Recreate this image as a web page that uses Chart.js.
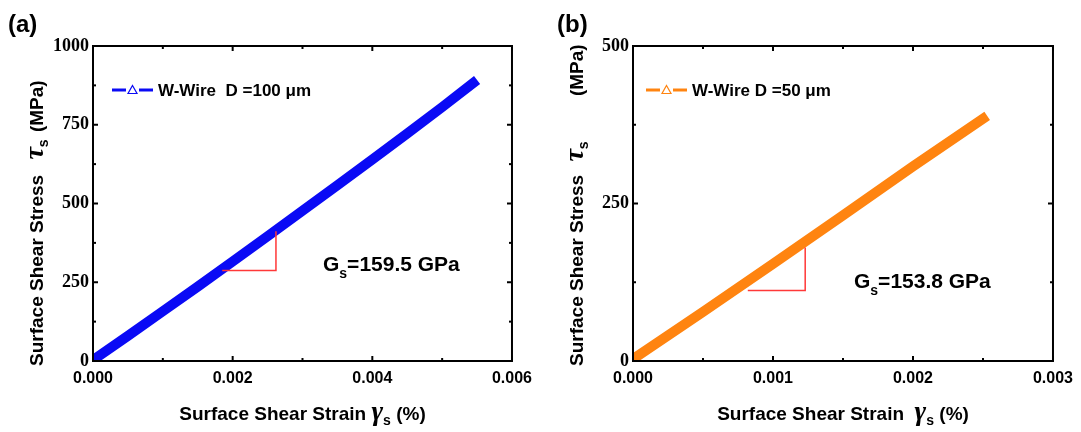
<!DOCTYPE html>
<html>
<head>
<meta charset="utf-8">
<script src="https://cdn.jsdelivr.net/npm/chart.js@4.4.1/dist/chart.umd.min.js"></script>
<style>
    html, body { margin: 0; padding: 0; background: #fff; }
    #wrap { position: relative; width: 1081px; height: 432px; overflow: hidden; }
    canvas { position: absolute; top: 0; }
    #chartA { left: 0; }
    #chartB { left: 540px; }
</style>
</head>
<body>
<div id="wrap">
    <canvas id="chartA" width="540" height="432"></canvas>
    <canvas id="chartB" width="541" height="432"></canvas>
</div>
<script>
(function () {
    'use strict';

    // panel (a): W-wire, D = 100 um
    const strainA = [0, 0.0005, 0.001, 0.0015, 0.002, 0.0025, 0.003, 0.0035, 0.004, 0.0045, 0.005, 0.0055];
    const stressA = [3, 80, 158, 236, 316, 396, 477, 558, 640, 722, 806, 892];
    const slopeStrainA = [0.00185, 0.00262, 0.00262];
    const slopeStressA = [287, 287, 412];
    const xTicksA = [0, 0.002, 0.004, 0.006];
    const xMinorA = [0.001, 0.003, 0.005];
    const yTicksA = [0, 250, 500, 750, 1000];
    const yMinorA = [125, 375, 625, 875];

    // panel (b): W-wire, D = 50 um
    const strainB = [0, 0.0005, 0.001, 0.0015, 0.002, 0.00253];
    const stressB = [3, 78, 154, 231, 309, 389];
    const slopeStrainB = [0.00082, 0.00123, 0.00123];
    const slopeStressB = [112, 112, 180];
    const xTicksB = [0, 0.001, 0.002, 0.003];
    const xMinorB = [0.0005, 0.0015, 0.0025];
    const yTicksB = [0, 250, 500];
    const yMinorB = [125, 375];

    const SANS = '"Liberation Sans", Arial, sans-serif';
    const SERIF = '"Liberation Serif", "Times New Roman", serif';
    const BLUE = '#0a0af5';
    const ORANGE = '#ff8410';
    const RED = '#ff3838';

    function toPoints(xs, ys) {
        return xs.map((x, i) => ({ x, y: ys[i] }));
    }

    // draws a row of text pieces with their own fonts; "gap" adds extra space after a piece
    function drawRich(ctx, parts, x, y, align) {
        let total = 0;
        parts.forEach((p) => {
            ctx.font = p.font;
            p.w = ctx.measureText(p.text).width + (p.gap || 0);
            total += p.w;
        });
        let cx = align === 'center' ? x - total / 2 : x;
        ctx.textAlign = 'left';
        ctx.textBaseline = 'alphabetic';
        parts.forEach((p) => {
            ctx.font = p.font;
            ctx.fillText(p.text, cx, y + (p.dy || 0));
            cx += p.w;
        });
    }

    function seg(ctx, x1, y1, x2, y2) {
        ctx.beginPath();
        ctx.moveTo(x1, y1);
        ctx.lineTo(x2, y2);
        ctx.stroke();
    }

    const decoPlugin = {
        id: 'deco',
        afterDraw(chart, args, o) {
            const ctx = chart.ctx;
            const a = chart.chartArea;
            const xs = chart.scales.x;
            const ys = chart.scales.y;
            ctx.save();
            ctx.fillStyle = '#000';
            ctx.strokeStyle = '#000';

            // inward ticks on all four sides
            ctx.lineWidth = 2;
            const tickX = (v, len) => {
                const px = xs.getPixelForValue(v);
                seg(ctx, px, a.bottom, px, a.bottom - len);
                seg(ctx, px, a.top, px, a.top + len);
            };
            const tickY = (v, len) => {
                const py = ys.getPixelForValue(v);
                seg(ctx, a.left, py, a.left + len, py);
                seg(ctx, a.right, py, a.right - len, py);
            };
            o.xMajor.forEach((v) => tickX(v, 5));
            o.xMinor.forEach((v) => tickX(v, 3));
            o.yMajor.forEach((v) => tickY(v, 5));
            o.yMinor.forEach((v) => tickY(v, 3));

            // frame
            ctx.strokeRect(a.left, a.top, a.right - a.left, a.bottom - a.top);

            // legend
            const lx = a.left + o.legendDx;
            const ly = a.top + 44;
            ctx.strokeStyle = o.color;
            ctx.lineWidth = 3;
            seg(ctx, lx, ly, lx + 14, ly);
            seg(ctx, lx + 27, ly, lx + 41, ly);
            ctx.lineWidth = 1.2;
            ctx.beginPath();
            ctx.moveTo(lx + 20.5, ly - 4.5);
            ctx.lineTo(lx + 25, ly + 3.5);
            ctx.lineTo(lx + 16, ly + 3.5);
            ctx.closePath();
            ctx.stroke();
            ctx.fillStyle = '#000';
            ctx.font = 'bold 17px ' + SANS;
            ctx.textAlign = 'left';
            ctx.textBaseline = 'middle';
            ctx.fillText(o.legend, lx + 46, ly + 1);

            // modulus annotation
            drawRich(ctx, [
                { text: 'G', font: 'bold 21px ' + SANS },
                { text: 's', font: 'bold 14px ' + SANS, dy: 7 },
                { text: o.modulus, font: 'bold 21px ' + SANS },
            ], a.left + o.gsDx, a.top + o.gsDy, 'left');

            // panel label
            ctx.font = 'bold 24px ' + SANS;
            ctx.textBaseline = 'alphabetic';
            ctx.fillText(o.panel, o.panelX, 32);

            // x axis title
            drawRich(ctx, [
                { text: o.xTitle, font: 'bold 19px ' + SANS },
                { text: '\u03b3', font: 'italic bold 28px ' + SERIF },
                { text: 's', font: 'bold 14px ' + SANS, dy: 5 },
                { text: ' (%)', font: 'bold 19px ' + SANS },
            ], (a.left + a.right) / 2, 420, 'center');

            // y axis title, rotated
            ctx.translate(43, 366);
            ctx.rotate(-Math.PI / 2);
            drawRich(ctx, [
                { text: 'Surface Shear Stress ', font: 'bold 19px ' + SANS, gap: o.tauGap },
                { text: '\u03c4', font: 'italic bold 28px ' + SERIF },
                { text: 's', font: 'bold 14px ' + SANS, dy: 5, gap: o.unitGap },
                { text: ' (MPa)', font: 'bold 19px ' + SANS },
            ], 0, 0, 'left');

            ctx.restore();
        },
    };

    function buildChart(canvas, cfg) {
        return new Chart(canvas, {
            type: 'line',
            data: {
                datasets: [
                    {
                        data: toPoints(cfg.slopeX, cfg.slopeY),
                        borderColor: RED,
                        borderWidth: 1.5,
                        pointRadius: 0,
                        tension: 0,
                    },
                    {
                        data: toPoints(cfg.strain, cfg.stress),
                        borderColor: cfg.color,
                        borderWidth: 10,
                        borderCapStyle: 'butt',
                        pointRadius: 0,
                        tension: 0,
                    },
                ],
            },
            options: {
                responsive: false,
                animation: false,
                events: [],
                layout: { padding: { left: 0, top: 46, right: cfg.padRight, bottom: 0 } },
                plugins: {
                    legend: { display: false },
                    tooltip: { enabled: false },
                    deco: {
                        xMajor: cfg.xTicks,
                        xMinor: cfg.xMinor,
                        yMajor: cfg.yTicks,
                        yMinor: cfg.yMinor,
                        color: cfg.color,
                        legend: cfg.legend,
                        legendDx: cfg.legendDx,
                        modulus: cfg.modulus,
                        gsDx: cfg.gsDx,
                        gsDy: cfg.gsDy,
                        panel: cfg.panel,
                        panelX: cfg.panelX,
                        xTitle: cfg.xTitle,
                        tauGap: cfg.tauGap,
                        unitGap: cfg.unitGap,
                    },
                },
                scales: {
                    x: {
                        type: 'linear',
                        min: cfg.xTicks[0],
                        max: cfg.xTicks[cfg.xTicks.length - 1],
                        afterBuildTicks: (s) => { s.ticks = cfg.xTicks.map((v) => ({ value: v })); },
                        afterFit: (s) => { s.height = 71; },
                        ticks: {
                            callback: (v) => Number(v).toFixed(3),
                            color: '#000',
                            font: { family: SANS, weight: 'bold', size: 16 },
                            padding: 8,
                            maxRotation: 0,
                        },
                        grid: { display: false, drawTicks: false },
                        border: { display: false },
                    },
                    y: {
                        type: 'linear',
                        min: cfg.yTicks[0],
                        max: cfg.yTicks[cfg.yTicks.length - 1],
                        afterBuildTicks: (s) => { s.ticks = cfg.yTicks.map((v) => ({ value: v })); },
                        afterFit: (s) => { s.width = 93; },
                        ticks: {
                            callback: (v) => String(v),
                            color: '#000',
                            font: { family: SERIF, weight: 'bold', size: 18 },
                            padding: 4,
                        },
                        grid: { display: false, drawTicks: false },
                        border: { display: false },
                    },
                },
            },
            plugins: [decoPlugin],
        });
    }

    buildChart(document.getElementById('chartA'), {
        strain: strainA, stress: stressA,
        slopeX: slopeStrainA, slopeY: slopeStressA,
        xTicks: xTicksA, xMinor: xMinorA, yTicks: yTicksA, yMinor: yMinorA,
        color: BLUE, padRight: 21,
        legend: 'W-Wire  D =100 \u03bcm', legendDx: 19,
        modulus: '=159.5 GPa', gsDx: 230, gsDy: 225,
        panel: '(a)', panelX: 8,
        xTitle: 'Surface Shear Strain ',
        tauGap: 10, unitGap: 2,
    });

    buildChart(document.getElementById('chartB'), {
        strain: strainB, stress: stressB,
        slopeX: slopeStrainB, slopeY: slopeStressB,
        xTicks: xTicksB, xMinor: xMinorB, yTicks: yTicksB, yMinor: yMinorB,
        color: ORANGE, padRight: 28,
        legend: 'W-Wire D =50 \u03bcm', legendDx: 13,
        modulus: '=153.8 GPa', gsDx: 221, gsDy: 242,
        panel: '(b)', panelX: 17,
        xTitle: 'Surface Shear Strain  ',
        tauGap: 8, unitGap: 40,
    });
})();
</script>
</body>
</html>
